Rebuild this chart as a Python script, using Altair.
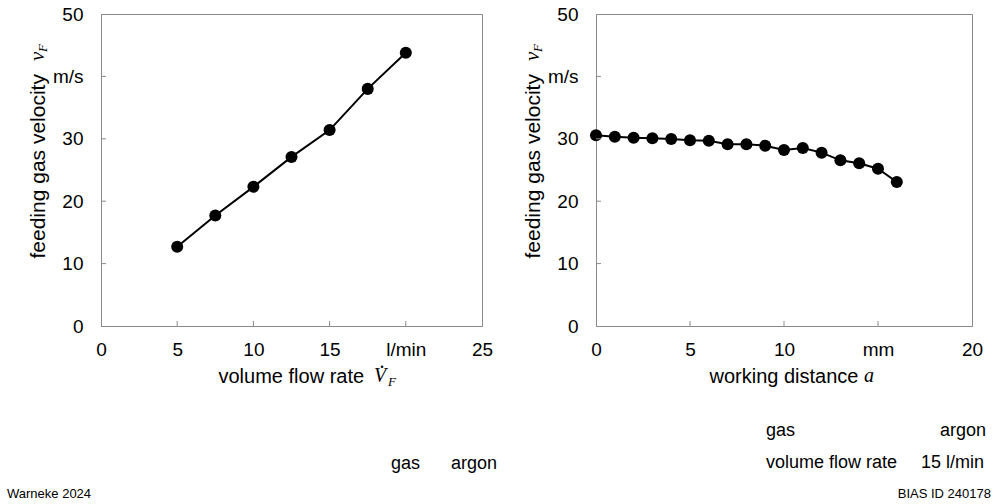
import altair as alt
import pandas as pd

# ---------------- data ----------------
flow_rate = [5, 7.5, 10, 12.5, 15, 17.5, 20]
velocity_by_flow = [12.7, 17.7, 22.3, 27.1, 31.4, 38.0, 43.8]

distance = [0, 1, 2, 3, 4, 5, 6, 7, 8, 9, 10, 11, 12, 13, 14, 15, 16]
velocity_by_distance = [30.56, 30.34, 30.18, 30.08, 29.97, 29.76, 29.70, 29.11, 29.11,
                        28.90, 28.20, 28.53, 27.78, 26.55, 26.07, 25.20, 23.08]

x1_label_values = [0, 5, 10, 15, 20, 25]
x2_label_values = [0, 5, 10, 15, 20]
y_label_values = [0, 10, 20, 30, 40, 50]
x1_inner_ticks = [5, 10, 15, 20]
x2_inner_ticks = [5, 10, 15]
y_inner_ticks = [10, 20, 30, 40]

# ---------------- style ----------------
SANS = "Liberation Sans"
SERIF = "Liberation Serif"
GREY = "#8a8a8a"
W1, W2, H = 381, 376, 312
TICK_LEN = 5


def txt(s, x, y, size, font=SANS, style="normal", align="left", angle=0, color="black"):
    kw = dict(font=font, fontSize=size, fontStyle=style, align=align,
              baseline="alphabetic", color=color)
    if angle:
        kw["angle"] = angle
    return alt.Chart(pd.DataFrame({"t": [s]})).mark_text(**kw).encode(
        text="t:N", x=alt.value(x), y=alt.value(y))


def panel(xs, ys, xdomain, xlabels, unit_val, unit_txt, xtitle, xtitle_x, xticks, width, extras):
    df = pd.DataFrame({"x": xs, "y": ys})
    xscale = alt.Scale(domain=xdomain, nice=False, zero=False)
    yscale = alt.Scale(domain=[0, 50], nice=False, zero=False)
    xaxis = alt.Axis(values=xlabels,
                     labelExpr=f"datum.value == {unit_val} ? '{unit_txt}' : datum.label",
                     title=xtitle, titleX=xtitle_x, titleY=56,
                     titleAlign="left", titleBaseline="alphabetic",
                     labelPadding=14)
    yaxis = alt.Axis(values=y_label_values,
                     labelExpr="datum.value == 40 ? 'm/s' : datum.label",
                     title="feeding gas velocity", titleAngle=270, titleFontSize=21,
                     titleX=-57, titleY=244, titleAlign="left", titleBaseline="alphabetic",
                     labelPadding=18)
    base = alt.Chart(df).encode(
        x=alt.X("x:Q", scale=xscale, axis=xaxis),
        y=alt.Y("y:Q", scale=yscale, axis=yaxis),
    )
    line = base.mark_line(color="black", strokeWidth=2)
    pts = base.mark_circle(size=145, color="black", opacity=1)

    xt = alt.Chart(pd.DataFrame({"x": xticks})).mark_rule(color=GREY, strokeWidth=1).encode(
        x=alt.X("x:Q", scale=xscale, axis=xaxis),
        y=alt.value(H), y2=alt.value(H - TICK_LEN))
    yt = alt.Chart(pd.DataFrame({"y": y_inner_ticks})).mark_rule(color=GREY, strokeWidth=1).encode(
        y=alt.Y("y:Q", scale=yscale, axis=yaxis),
        x=alt.value(0), x2=alt.value(TICK_LEN))

    sym = [
        txt("v", -57, 47, 21, font=SERIF, style="italic", angle=270),
        txt("F", -54, 38, 13, font=SERIF, style="italic", angle=270),
    ]
    return alt.layer(line, pts, xt, yt, *sym, *extras).properties(width=width, height=H)


left_extras = [
    txt("V", 273, 368, 20, font=SERIF, style="italic"),
    txt(".", 281, 354, 20, font=SERIF, align="center"),
    txt("F", 287, 372, 13, font=SERIF, style="italic"),
    txt("gas", 290, 455, 18),
    txt("argon", 350, 455, 18),
    txt("Warneke 2024", -94, 484, 13),
]
right_extras = [
    txt("a", 268, 368, 20, font=SERIF, style="italic"),
    txt("gas", 170, 422, 18),
    txt("argon", 390, 422, 18, align="right"),
    txt("volume flow rate", 170, 454, 18),
    txt("15 l/min", 388, 454, 18, align="right"),
    txt("BIAS ID 240178", 395, 484, 13, align="right"),
]

left = panel(flow_rate, velocity_by_flow, [0, 25], x1_label_values, 20, "l/min",
             "volume flow rate", 117, x1_inner_ticks, W1, left_extras)
right = panel(distance, velocity_by_distance, [0, 20], x2_label_values, 15, "mm",
              "working distance", 113, x2_inner_ticks, W2, right_extras)

chart = alt.hconcat(left, right, spacing=114, bounds="flush").properties(
    padding={"left": 6, "top": 4, "right": 0, "bottom": 0},
    background="white",
).configure_view(
    stroke=GREY, strokeWidth=1
).configure_axis(
    labelFont=SANS, labelFontSize=19, labelColor="black",
    titleFont=SANS, titleFontSize=20, titleFontWeight="normal", titleColor="black",
    domainColor=GREY, domainWidth=1, ticks=False, tickSize=0, grid=False,
    labelFlush=False, labelOverlap=False
)

chart.save("out.html", embed_options={"renderer": "svg", "actions": False})
